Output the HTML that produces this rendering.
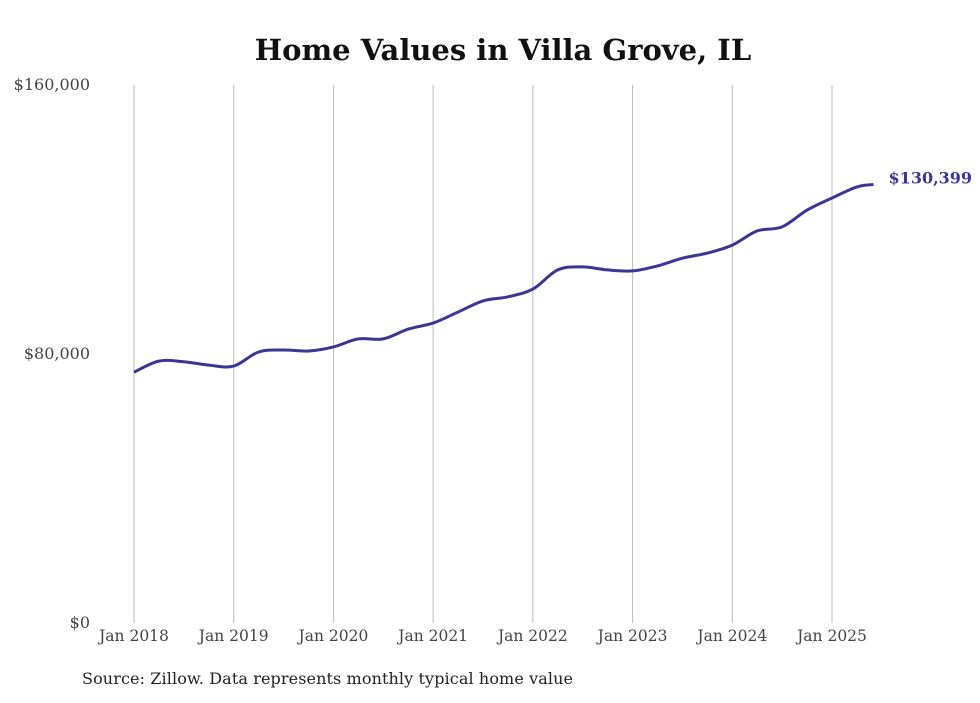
<!DOCTYPE html>
<html><head><meta charset="utf-8"><style>
body{margin:0;background:#fff;width:980px;height:699px;overflow:hidden;font-family:"DejaVu Serif","Liberation Serif",serif}
</style></head><body>
<svg width="980" height="699">
<text x="503" y="60" text-anchor="middle" font-size="29" font-weight="bold" fill="#111">Home Values in Villa Grove, IL</text>
<g id="grid"></g><g id="yt"></g><g id="xt"></g>
<path id="line" fill="none" stroke="#3b3594" stroke-width="3" stroke-linejoin="round"/>
<text id="lbl" font-size="16" font-weight="bold" fill="#3b3594"></text>
<text x="82" y="684" font-size="16" fill="#222" textLength="491">Source: Zillow. Data represents monthly typical home value</text>
</svg>
<script>
const months=[0,3,6,9,12,15,18,21,24,27,30,33,36,39,42,45,48,51,54,57,60,63,66,69,72,75,78,81,84,87,89];
const values=[74.6,77.9,77.7,76.7,76.4,80.6,81.2,80.9,82.1,84.5,84.5,87.4,89.2,92.5,95.8,97,99.3,105,105.9,105,104.7,106.2,108.5,110,112.4,116.6,117.8,122.8,126.4,129.7,130.399];
const yTicks=[0,80,160];
const yTickLabels=["$0","$80,000","$160,000"];
const xTickLabels=["Jan 2018","Jan 2019","Jan 2020","Jan 2021","Jan 2022","Jan 2023","Jan 2024","Jan 2025"];
const lastLabel="$130,399";
const X=m=>134+m*(698/84), Y=v=>623-v*(538/160);
const ns="http://www.w3.org/2000/svg";
function mk(t,a,p){const e=document.createElementNS(ns,t);for(const k in a)e.setAttribute(k,a[k]);p.appendChild(e);return e;}
const g=document.getElementById('grid'),yt=document.getElementById('yt'),xt=document.getElementById('xt');
xTickLabels.forEach((l,i)=>{const x=X(i*12);
const ln=mk('line',{x1:x,x2:x,y1:85,y2:623,stroke:'#bbb','stroke-width':1},g);


const t=mk('text',{x:x,y:641,'text-anchor':'middle','font-size':15.5,fill:'#444'},xt);t.textContent=l;

});
yTicks.forEach((v,i)=>{const t=mk('text',{x:90,y:Y(v)+5,'text-anchor':'end','font-size':16,fill:'#444'},yt);t.textContent=yTickLabels[i];

});
const P=months.map((m,i)=>[X(m),Y(values[i])]);
let d='M'+P[0][0].toFixed(1)+','+P[0][1].toFixed(1);
for(let i=0;i<P.length-1;i++){const p0=P[i-1]||P[i],p1=P[i],p2=P[i+1],p3=P[i+2]||P[i+1],k=1/6;
d+='C'+(p1[0]+(p2[0]-p0[0])*k).toFixed(1)+','+(p1[1]+(p2[1]-p0[1])*k).toFixed(1)+' '+(p2[0]-(p3[0]-p1[0])*k).toFixed(1)+','+(p2[1]-(p3[1]-p1[1])*k).toFixed(1)+' '+p2[0].toFixed(1)+','+p2[1].toFixed(1);}
document.getElementById('line').setAttribute('d',d);
const lb=document.getElementById('lbl');const n=months.length-1;
lb.setAttribute('x',X(months[n])+15);lb.setAttribute('y',Y(values[n])-1);lb.textContent=lastLabel;
</script>
</body></html>
